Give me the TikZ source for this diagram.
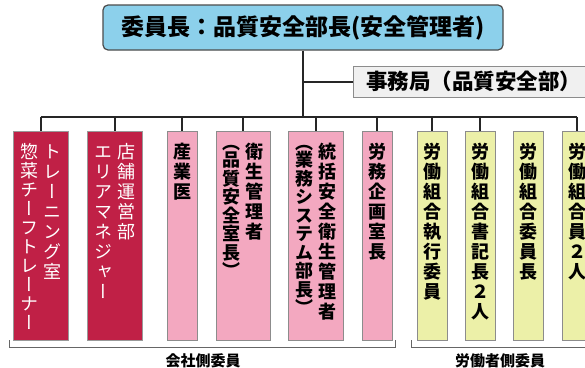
\documentclass[tikz,border=0pt]{standalone}
\usepackage{fontspec}
\usepackage{graphicx}
\usepackage{xcolor}
\setmainfont{Noto Sans CJK JP}
\newfontfamily\tatefont[RawFeature=+vert]{Noto Sans CJK JP}

\definecolor{chairblue}{RGB}{140,208,235}
\definecolor{postred}{RGB}{192,32,70}
\definecolor{postpink}{RGB}{243,168,192}
\definecolor{postlime}{RGB}{236,240,168}

\makeatletter
\newcommand\tatecol[2][20]{\parbox[t]{18pt}{\centering\tatefont\fontsize{18}{#1}\selectfont
  \@tfor\tatechar:=#2\do{\tatechar\par}}}
\makeatother
\newcommand\tatepair[3][20]{\tatecol[#1]{#2}\hspace{5pt}\tatecol{#3}}
\newcommand\kakkoopen[1]{\raisebox{9pt}{#1}\par\vspace{-10pt}}

\begin{document}
\begin{tikzpicture}[
    x=1pt, y=-1pt,
    chairbox/.style={draw=black!70, line width=1.2pt, rounded corners=5pt, fill=chairblue, minimum width=400pt, minimum height=45pt, font=\bfseries\fontsize{23}{24}\selectfont},
    officebox/.style={draw=black!45, line width=0.8pt, fill=black!6, minimum height=31pt, text width=240pt, align=left, inner xsep=13pt, font=\bfseries\fontsize{21.5}{22}\selectfont},
    post/.style={minimum height=209pt, inner sep=0pt, text height=20pt, text depth=175pt, line width=0.7pt},
    redpost/.style={post, draw=black!40, fill=postred, text=white},
    pinkpost/.style={post, draw=black!45, fill=postpink, font=\bfseries},
    limepost/.style={post, draw=black!45, fill=postlime, font=\bfseries},
    link/.style={draw=black!85, line width=2pt},
    bracket/.style={draw=black!60, line width=1.2pt},
    side/.style={font=\bfseries\fontsize{15}{16}\selectfont}
]
\useasboundingbox (0,0) rectangle (585,367);
\clip (0,0) rectangle (585,367);

\node[chairbox] (chair) at (303,27.5) {委員長：品質安全部長(安全管理者)};
\node[officebox, anchor=west] (office) at (353,81.5) {事務局（品質安全部）};
\coordinate (hub) at (303,117);

\node[redpost, minimum width=55pt] (trainer) at (40.5,235.5) {\tatepair[19]{惣菜チーフトレーナー}{トレーニング室}};
\node[redpost, minimum width=55pt] (storemgr) at (114.5,235.5) {\tatepair{エリアマネジャー}{店舗運営部}};
\node[pinkpost, minimum width=30pt] (doctor) at (182,235.5) {\tatecol{産業医}};
\node[pinkpost, minimum width=54pt] (hygiene) at (243,235.5) {\tatepair[18.5]{{\kakkoopen{（}}品質安全室長）}{衛生管理者}};
\node[pinkpost, minimum width=55pt] (safety) at (315.5,235.5) {\tatepair[18.5]{{\kakkoopen{（}}業務システム部長）}{統括安全衛生管理者}};
\node[pinkpost, minimum width=30pt] (laborplan) at (377,235.5) {\tatecol{労務企画室長}};
\node[limepost, minimum width=30pt] (unionexec) at (432,235.5) {\tatecol{労働組合執行委員}};
\node[limepost, minimum width=30pt] (unionsec) at (480,235.5) {\tatecol{労働組合書記長２人}};
\node[limepost, minimum width=30pt] (unionchair) at (528,235.5) {\tatecol{労働組合委員長}};
\node[limepost, minimum width=30pt] (unionmember) at (577,235.5) {\tatecol{労働組合員２人}};

\draw[link] (chair) -- (hub);
\draw[link] (office.west) -- (office.west -| hub);
\draw[link] (trainer.north |- hub) -- (unionmember.north |- hub);
\foreach \post in {trainer,storemgr,doctor,hygiene,safety,laborplan,unionexec,unionsec,unionmember}
  \draw[link] (\post.north) -- (\post.north |- hub);

\draw[bracket] ([xshift=-3pt]trainer.south west) -- ++(0,7) -| ([xshift=3pt]laborplan.south east);
\draw[bracket] ([xshift=-5pt]unionexec.south west) -- ++(0,7) -| ([xshift=30pt]unionmember.south east);
\node[side] (companyside) at (203,360.5) {会社側委員};
\node[side] (laborside) at (500,360.5) {労働者側委員};
\end{tikzpicture}
\end{document}
